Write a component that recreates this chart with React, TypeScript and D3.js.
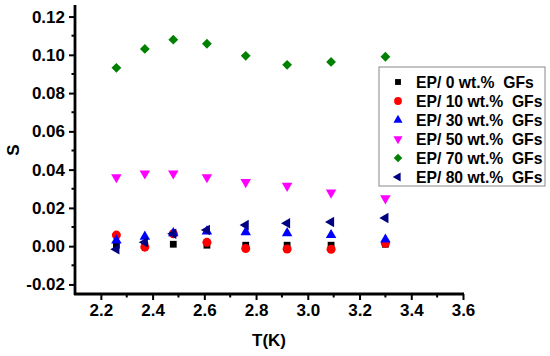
import React, { useRef, useEffect } from 'react';
import * as d3 from 'd3';

const temps = [2.26, 2.37, 2.48, 2.61, 2.76, 2.92, 3.09, 3.30];

const gf0 = [0.0005, 0.0003, 0.001, 0.0005, 0.0005, 0.0005, 0.0005, 0.001];
const gf10 = [0.0058, -0.0005, 0.0065, 0.002, -0.0012, -0.0015, -0.0016, 0.0015];
const gf30 = [0.003, 0.005, 0.0068, 0.0077, 0.0073, 0.0068, 0.0058, 0.0035];
const gf50 = [0.036, 0.038, 0.038, 0.036, 0.0335, 0.0315, 0.028, 0.025];
const gf70 = [0.0932, 0.1031, 0.1079, 0.1058, 0.0995, 0.0948, 0.0963, 0.099];
const gf80 = [-0.0016, 0.002, 0.0065, 0.0084, 0.011, 0.012, 0.0126, 0.0147];

const seriesNames = [
  'EP/ 0 wt.%  GFs',
  'EP/ 10 wt.%  GFs',
  'EP/ 30 wt.%  GFs',
  'EP/ 50 wt.%  GFs',
  'EP/ 70 wt.%  GFs',
  'EP/ 80 wt.%  GFs',
];
const seriesValues = [gf0, gf10, gf30, gf50, gf70, gf80];
const seriesColors = ['#000000', '#ff0000', '#0000ff', '#ff00ff', '#008000', '#000080'];

const xTicks = [2.2, 2.4, 2.6, 2.8, 3.0, 3.2, 3.4, 3.6];
const yTicks = [-0.02, 0.0, 0.02, 0.04, 0.06, 0.08, 0.1, 0.12];

// marker shapes: [symbol type, size, rotation]
const markers: [d3.SymbolType, number, number][] = [
  [d3.symbolSquare, 46, 0],
  [d3.symbolCircle, 64, 0],
  [d3.symbolTriangle, 48, 0],
  [d3.symbolTriangle, 48, 180],
  [d3.symbolSquare, 48, 45],
  [d3.symbolTriangle, 48, -90],
];

const W = 550;
const H = 356;

const App = () => {
  const svgRef = useRef<SVGSVGElement>(null);

  useEffect(() => {
    document.body.style.margin = '0';
    if (!svgRef.current) return;
    const svg = d3.select(svgRef.current);
    svg.selectAll('*').remove();

    const font = '"Liberation Sans", Arial, sans-serif';
    const x = d3.scaleLinear().domain([2.1, 3.6]).range([75, 463]);
    const y = d3.scaleLinear().domain([-0.025, 0.125]).range([294, 7]);

    // minor ticks
    const xMinor = d3.range(2.3, 3.6, 0.2);
    const yMinor = d3.range(-0.01, 0.125, 0.02);

    const gx = svg.append('g').attr('transform', `translate(0,${y.range()[0]})`);
    gx.selectAll('line.minor')
      .data(xMinor)
      .enter()
      .append('line')
      .attr('x1', d => x(d))
      .attr('x2', d => x(d))
      .attr('y1', 0)
      .attr('y2', 3.5)
      .attr('stroke', '#000')
      .attr('stroke-width', 2);
    gx.call(
      d3.axisBottom(x).tickValues(xTicks).tickSize(6).tickSizeOuter(0).tickPadding(4)
        .tickFormat(d3.format('.1f'))
    );
    gx.select('.domain').attr('stroke-width', 2.8).attr('d', `M${x.range()[0] - 1},0H${x.range()[1] + 1}`);
    gx.selectAll('.tick line').attr('stroke-width', 2);
    gx.selectAll('.tick text')
      .attr('font-family', font)
      .attr('font-weight', 'bold')
      .attr('font-size', 17)
      .attr('fill', '#000');

    const gy = svg.append('g').attr('transform', `translate(${x.range()[0]},0)`);
    gy.selectAll('line.minor')
      .data(yMinor)
      .enter()
      .append('line')
      .attr('x1', 0)
      .attr('x2', -3.5)
      .attr('y1', d => y(d))
      .attr('y2', d => y(d))
      .attr('stroke', '#000')
      .attr('stroke-width', 2);
    gy.call(
      d3.axisLeft(y).tickValues(yTicks).tickSize(6).tickSizeOuter(0).tickPadding(4)
        .tickFormat(d3.format('.2f'))
    );
    gy.select('.domain').attr('stroke-width', 2.8).attr('d', `M0,${y.range()[0] + 1}V${y.range()[1] - 2}`);
    gy.selectAll('.tick line').attr('stroke-width', 2);
    gy.selectAll('.tick text')
      .attr('font-family', font)
      .attr('font-weight', 'bold')
      .attr('font-size', 17)
      .attr('fill', '#000')
      .text(d => d3.format('.2f')(d as number).replace('−', '-'));

    // axis titles
    svg.append('text')
      .attr('x', 269)
      .attr('y', 346)
      .attr('text-anchor', 'middle')
      .attr('font-family', font)
      .attr('font-weight', 'bold')
      .attr('font-size', 17)
      .text('T(K)');
    svg.append('text')
      .attr('transform', 'translate(19,150) rotate(-90)')
      .attr('text-anchor', 'middle')
      .attr('font-family', font)
      .attr('font-weight', 'bold')
      .attr('font-size', 17)
      .text('S');

    // points
    seriesValues.forEach((vals, si) => {
      const [type, size, rot] = markers[si];
      const sym = d3.symbol().type(type).size(size);
      svg.append('g')
        .selectAll('path')
        .data(vals)
        .enter()
        .append('path')
        .attr('d', sym)
        .attr('transform', (d, i) => `translate(${x(temps[i])},${y(d)}) rotate(${rot})`)
        .attr('fill', seriesColors[si]);
    });

    // legend
    const lg = svg.append('g').attr('transform', 'translate(379,67)');
    lg.append('rect')
      .attr('width', 166)
      .attr('height', 119)
      .attr('fill', '#fff')
      .attr('stroke', '#888')
      .attr('stroke-width', 1);
    seriesNames.forEach((name, si) => {
      const [type, size, rot] = markers[si];
      const cy = 15 + si * 19;
      lg.append('path')
        .attr('d', d3.symbol().type(type).size(size * 0.75)())
        .attr('transform', `translate(19,${cy}) rotate(${rot})`)
        .attr('fill', seriesColors[si]);
      lg.append('text')
        .attr('x', 37)
        .attr('y', cy + 5.5)
        .attr('font-family', font)
        .attr('font-weight', 'bold')
        .attr('font-size', 15.7)
        .style('white-space', 'pre')
        .text(name);
    });
  }, []);

  return <svg ref={svgRef} width={W} height={H} style={{ display: 'block', background: '#fff' }} />;
};

export default App;
